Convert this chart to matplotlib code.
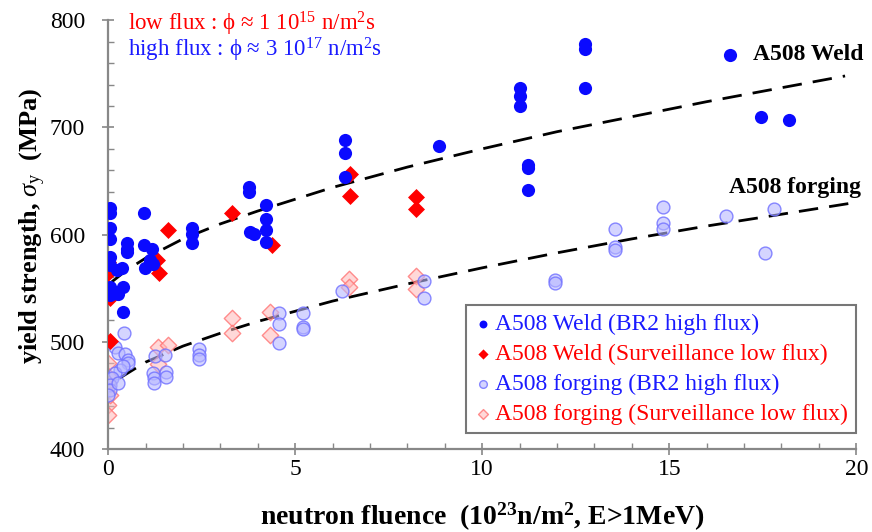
import matplotlib
matplotlib.use("Agg")
import matplotlib.pyplot as plt
from matplotlib.ticker import MultipleLocator

plt.rcParams['font.family'] = ['Liberation Serif', 'DejaVu Serif']
plt.rcParams['mathtext.fontset'] = 'custom'
plt.rcParams['mathtext.rm'] = 'Liberation Serif'
plt.rcParams['mathtext.it'] = 'Liberation Serif:italic'
plt.rcParams['mathtext.bf'] = 'Liberation Serif:bold'

# A508 Weld, BR2 high flux
weld_br2_x = [0.05, 0.05, 0.05, 0.05, 0.05, 0.05, 0.05, 0.05, 0.05,
              0.24, 0.37, 0.4, 0.27, 0.4, 0.5, 0.5, 0.5, 0.96,
              0.96, 1.18, 1.12, 0.99, 1.2, 2.25, 2.25, 2.25,
              3.77, 3.77, 3.8, 3.9, 4.22, 4.22, 4.22, 4.22,
              6.34, 6.34, 6.34, 8.85, 11.0, 11.0, 11.0,
              11.23, 11.23, 11.23, 12.75, 12.75, 12.75, 16.63, 17.46, 18.2]
weld_br2_y = [625, 620, 606, 596, 579, 572, 551, 548, 544,
              567, 569, 551, 545, 528, 592, 587, 584, 620,
              590, 587, 576, 569, 573, 606, 601, 592,
              644, 640, 602, 601, 628, 615, 604, 593,
              688, 676, 654, 683, 737, 729, 720,
              665, 662, 642, 778, 773, 737, 768, 710, 707]

# A508 Weld, surveillance low flux
weld_surv_x = [0.0, 0.0, 0.05, 0.05, 1.3, 1.36, 1.6, 3.3, 4.38, 6.47, 6.47, 8.23, 8.23]
weld_surv_y = [574, 564, 541, 501, 576, 564, 604, 620, 590, 657, 636, 635, 624]

# A508 forging, BR2 high flux
forg_br2_x = [0.43, 0.19, 0.27, 0.45, 0.53, 0.53, 0.32, 0.19, 0.1, 0.05, 0.05, 0.0, 0.27, 0.4,
              1.26, 1.2, 1.23, 1.23, 1.55, 1.55, 1.52, 2.43, 2.43, 2.43,
              4.57, 4.57, 4.57, 5.2, 5.2, 5.2, 6.25, 8.45, 8.45, 11.95, 11.95,
              13.56, 13.56, 13.56, 14.84, 14.84, 14.84, 16.52, 17.57, 17.8]
forg_br2_y = [508, 495, 490, 489, 483, 480, 474, 471, 466, 460, 455, 450, 462, 477,
              487, 471, 466, 462, 472, 467, 488, 493, 488, 484,
              527, 517, 499, 527, 514, 512, 547, 557, 541, 558, 555,
              605, 588, 586, 626, 611, 605, 617, 583, 624]

# A508 forging, surveillance low flux
forg_surv_x = [0.0, 0.0, 0.0, 0.0, 0.0, 0.05, 1.34, 1.6, 1.34, 3.3, 3.3, 4.33, 4.33,
               6.45, 6.45, 8.23, 8.23]
forg_surv_y = [480, 468, 462, 441, 432, 450, 495, 497, 479, 522, 508, 528, 506,
               559, 551, 561, 549]

# dashed trend curves
weld_fit_x = [0.1, 0.5, 1, 2, 3, 4, 6, 8, 10, 12, 14, 16, 18, 19.7]
weld_fit_y = [556, 567, 578, 596, 610, 622, 644, 663, 680, 696, 710, 724, 737, 748]
forg_fit_x = [0.3, 1, 2, 3, 4, 6, 8, 10, 12, 14, 16, 18, 19.8]
forg_fit_y = [466, 481, 496, 508, 519, 538, 554, 569, 583, 596, 608, 619, 629]

fig = plt.figure(figsize=(8.72, 5.32), dpi=100)
ax = fig.add_axes([0.124, 0.156, 0.858, 0.806])

ax.plot(weld_fit_x, weld_fit_y, color='black', lw=2, dashes=(7, 4), zorder=1)
ax.plot(forg_fit_x, forg_fit_y, color='black', lw=2, dashes=(7, 4), zorder=1)

ax.scatter(forg_surv_x, forg_surv_y, marker='D', s=70, facecolor=(1, 0.72, 0.72, 0.55),
           edgecolor=(1, 0.45, 0.45, 0.8), lw=1, zorder=2,
           label='A508 forging (Surveillance low flux)')
ax.scatter(forg_br2_x, forg_br2_y, marker='o', s=85, facecolor=(0.72, 0.72, 1, 0.6),
           edgecolor=(0.45, 0.45, 1, 0.85), lw=1, zorder=3,
           label='A508 forging (BR2 high flux)')
ax.scatter(weld_surv_x, weld_surv_y, marker='D', s=75, color='#ff0000', lw=0, zorder=4,
           label='A508 Weld (Surveillance low flux)')
ax.scatter(weld_br2_x, weld_br2_y, marker='o', s=90, color='#0a0aff', lw=0, zorder=5,
           label='A508 Weld (BR2 high flux)')

ax.set_xlim(0, 20)
ax.set_ylim(400, 800)
ax.xaxis.set_major_locator(MultipleLocator(5))
ax.xaxis.set_minor_locator(MultipleLocator(1))
ax.yaxis.set_major_locator(MultipleLocator(100))
ax.yaxis.set_minor_locator(MultipleLocator(20))

for s in ['top', 'right']:
    ax.spines[s].set_visible(False)
for s in ['left', 'bottom']:
    ax.spines[s].set_color('#888888')
    ax.spines[s].set_linewidth(1.6)
ax.tick_params(which='major', direction='inout', length=9, width=1.2, color='#888888',
               labelsize=17)
ax.tick_params(which='minor', direction='in', length=4, width=1.0, color='#888888')
ax.tick_params(axis='x', pad=3)
ax.tick_params(axis='y', pad=12)

ax.set_xlabel(r'neutron fluence  (10$^{\mathbf{23}}$n/m$^{\mathbf{2}}$, E>1MeV)',
              fontsize=20, fontweight='bold', va='center')
ax.xaxis.set_label_coords(0.5, -0.158)
ax.set_ylabel(r'yield strength, $\sigma_{\mathrm{y}}$  (MPa)', fontsize=19,
              fontweight='bold', va='center')
ax.yaxis.set_label_coords(-0.100, 0.52)

ax.text(0.53, 797, r'low flux : ϕ ≈ 1 10$^{15}$ n/m$^{2}$s', color='#ff0000',
        fontsize=16.5, va='center')
ax.text(0.53, 772, r'high flux : ϕ ≈ 3 10$^{17}$ n/m$^{2}$s', color='#1a1aff',
        fontsize=16.5, va='center')
ax.text(17.25, 768, 'A508 Weld', fontsize=17, fontweight='bold', va='center')
ax.text(16.6, 644, 'A508 forging', fontsize=17, fontweight='bold', va='center')

handles, labels = ax.get_legend_handles_labels()
order = [3, 2, 1, 0]
leg = ax.legend([handles[i] for i in order], [labels[i] for i in order],
                loc='lower right', bbox_to_anchor=(1.0, 0.037), fontsize=17,
                frameon=True, fancybox=False, edgecolor='#555555', markerscale=0.6,
                handletextpad=0.1, handlelength=0.8, borderpad=0.35,
                labelspacing=0.36, borderaxespad=0)
leg.get_frame().set_linewidth(1.5)
for t, c in zip(leg.get_texts(), ['#1a1aff', '#ff0000', '#1a1aff', '#ff0000']):
    t.set_color(c)

fig.savefig('out.png', dpi=100, facecolor='white')
